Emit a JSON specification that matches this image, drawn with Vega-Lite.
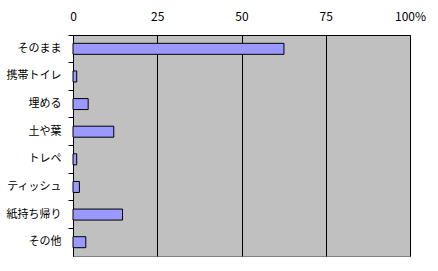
{
  "$schema": "https://vega.github.io/schema/vega-lite/v6.json",
  "width": 337,
  "height": 221,
  "autosize": {"type": "none"},
  "padding": {"left": 73, "top": 35, "right": 28, "bottom": 15},
  "background": "white",
  "view": {"fill": "#C0C0C0", "stroke": "#808080", "strokeWidth": 1},
  "config": {"font": "Noto Sans CJK JP"},
  "data": {
    "values": [
      {"cat": "そのまま", "pct": 62.6},
      {"cat": "携帯トイレ", "pct": 1.1},
      {"cat": "埋める", "pct": 4.5},
      {"cat": "土や葉", "pct": 12.1},
      {"cat": "トレペ", "pct": 1.1},
      {"cat": "ティッシュ", "pct": 1.9},
      {"cat": "紙持ち帰り", "pct": 14.7},
      {"cat": "その他", "pct": 3.8}
    ]
  },
  "mark": {"type": "bar", "size": 11, "fill": "#9999FF", "stroke": "black", "strokeWidth": 1},
  "encoding": {
    "y": {
      "field": "cat",
      "type": "nominal",
      "sort": null,
      "scale": {"paddingInner": 0, "paddingOuter": 0},
      "axis": {
        "title": null,
        "bandPosition": 0,
        "tickSize": 5,
        "tickColor": "black",
        "domainColor": "black",
        "labelFontSize": 11,
        "labelColor": "black",
        "labelPadding": 7,
        "grid": false
      }
    },
    "x": {
      "field": "pct",
      "type": "quantitative",
      "scale": {"domain": [0, 100], "nice": false},
      "axis": {
        "orient": "top",
        "title": null,
        "values": [0, 25, 50, 75, 100],
        "labelExpr": "datum.value == 100 ? '100%' : datum.label",
        "ticks": false,
        "tickSize": 0,
        "domain": true,
        "domainColor": "black",
        "grid": true,
        "gridColor": "black",
        "gridOpacity": 1,
        "labelFontSize": 12,
        "labelColor": "black",
        "labelPadding": 12,
        "labelDx": -3,
        "labelFlush": false
      }
    }
  }
}
